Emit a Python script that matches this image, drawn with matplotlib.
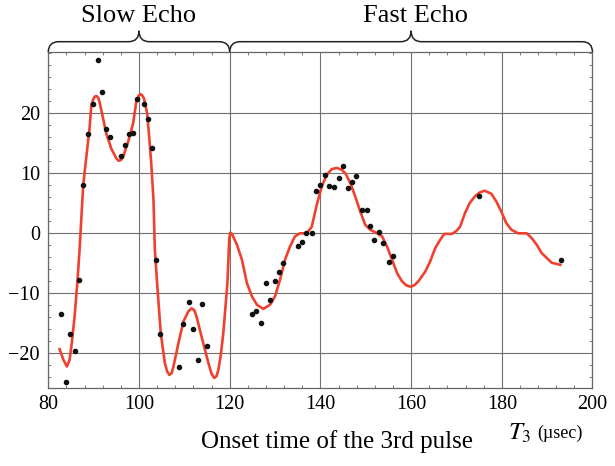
import matplotlib
matplotlib.use("Agg")
import matplotlib.pyplot as plt
from matplotlib.path import Path
from matplotlib.patches import PathPatch
from matplotlib.transforms import blended_transform_factory

plt.rcParams['font.family'] = ['Liberation Serif', 'DejaVu Serif']
plt.rcParams['mathtext.fontset'] = 'stix'

# Measured points (T3 in usec, signal)
pts_x = [82.7, 84.0, 84.9, 85.8, 86.8, 87.7, 88.7, 89.9, 90.9, 91.8,
         92.8, 93.7, 96.0, 96.9, 97.8, 98.75, 99.6, 101.0, 101.9, 102.8,
         103.8, 104.7, 108.9, 109.8, 111.0, 112.0, 113.0, 113.8, 114.9,
         125.0, 125.9, 126.8, 128.1, 129.0, 129.9, 130.9, 131.8, 135.0,
         136.0, 136.9, 138.2, 139.05, 140.0, 141.0, 141.9, 142.9, 144.1,
         145.0, 146.0, 146.9, 147.9, 149.1, 150.2, 151.0, 151.9, 152.95,
         153.8, 155.2, 156.0, 174.9, 193.1]
pts_y = [-13.5, -24.7, -16.8, -19.6, -7.75, 8.0, 16.5, 21.5, 28.9, 23.6,
         17.4, 16.0, 12.9, 14.8, 16.5, 16.7, 22.4, 21.5, 19.1, 14.3,
         -4.4, -16.8, -22.25, -15.1, -11.5, -15.9, -21.1, -11.75, -18.7,
         -13.5, -13.0, -14.9, -8.25, -11.1, -8.0, -6.4, -4.9, -2.1,
         -1.4, 0.1, 0.1, 7.0, 8.1, 9.8, 7.9, 7.7, 9.3,
         11.3, 7.5, 8.6, 9.6, 3.9, 3.9, 1.25, -1.1, 0.3,
         -1.6, -4.7, -3.75, 6.3, -4.4]

# Fitted curve
fit_x = [82.5, 83.3, 84.1, 84.7, 85.2, 85.8, 86.4, 86.9, 87.7, 88.25, 89.1, 89.5,
         89.9, 90.2, 90.6, 91.0, 91.3, 92.1, 92.8, 93.9, 95.0, 95.5, 96.0, 96.5,
         97.6, 98.7, 99.4, 99.9, 100.3, 100.7, 101.1, 101.8, 102.3, 102.7,
         103.2, 103.5, 104.1, 104.8, 105.7, 106.2, 106.7, 107.2, 107.6, 108.7,
         109.8, 110.9, 111.6, 112.2, 112.7, 113.8, 115.3, 116.0, 116.6, 117.1,
         117.5, 118.0, 118.6, 119.5, 119.9, 120.1, 120.5, 121.6, 122.7,
         123.8, 124.9, 126.0, 127.4, 128.9, 130.0, 131.1, 132.2, 133.3, 134.4,
         135.5, 137.0, 138.1, 139.2, 140.3, 141.4, 142.5, 143.6, 144.7, 145.5,
         146.6, 147.7, 148.8, 149.9, 151.0, 152.5, 153.6, 154.7, 155.8, 156.9,
         158.0, 159.0, 160.0, 160.8, 161.6, 163.1, 164.2, 165.3, 166.4, 167.3,
         169.0, 170.0, 170.8, 171.9, 172.9, 174.0, 175.1, 176.2, 177.7, 178.8,
         179.9, 181.0, 182.1, 183.6, 185.5, 186.6, 187.7, 188.8, 189.9, 191.0,
         192.9]
fit_y = [-19.3, -21.0, -22.2, -21.1, -18.2, -13.9, -8.3, -2.75, 8.0, 11.8, 17.5, 21.4,
         22.3, 22.75, 22.9, 22.6, 21.9, 19.1, 16.6, 14.1, 12.5, 12.1, 12.2, 12.75,
         15.25, 18.3, 21.9, 22.9, 23.2, 23.0, 22.5, 20.0, 15.6, 11.7,
         5.6, -2.75, -9.4, -16.6, -21.6, -23.0, -23.6, -23.3, -22.2, -18.3,
         -14.7, -13.0, -12.5, -12.8, -13.9, -17.2, -21.6, -23.4, -24.1, -23.8,
         -22.75, -20.5, -16.6, -8.3, -1.0, 0.1, -0.1, -1.9, -4.4,
         -8.3, -10.5, -11.9, -12.6, -11.9, -10.5, -7.75, -4.4, -2.2, -0.5,
         0.0, 0.0, 1.1, 4.75, 7.8, 9.75, 10.7, 10.9, 10.6, 10.0,
         8.4, 6.1, 3.6, 1.4, 0.6, 0.0, -0.5, -2.2, -4.4, -6.6,
         -8.0, -8.7, -8.9, -8.6, -8.0, -6.4, -4.7, -2.5, -1.1, -0.1,
         -0.1, 0.4, 1.1, 3.4, 5.0, 6.1, 6.8, 7.1, 6.6, 5.3,
         3.6, 1.7, 0.6, 0.0, 0.0, -0.8, -1.9, -3.3, -4.1, -4.9,
         -5.25]

x_ticks = [80, 100, 120, 140, 160, 180, 200]
y_ticks = [-20, -10, 0, 10, 20]

# brace spans: (start, tip, end, label)
braces = [(80, 100, 120, "Slow Echo"), (120, 160, 200, "Fast Echo")]

fig = plt.figure(figsize=(6.15, 4.66), dpi=100)
ax = fig.add_axes([0.0785, 0.1667, 0.8849, 0.7211])

ax.plot(fit_x, fit_y, color='#f0402e', lw=1.9, zorder=3,
        solid_joinstyle='round')
ax.plot(pts_x, pts_y, 'o', color='#111111', ms=3, zorder=4)

ax.set_xlim(80, 200)
ax.set_ylim(-25.83, 30.17)
ax.set_xticks(x_ticks)
ax.set_xticklabels([str(v) for v in x_ticks], fontfamily='Liberation Serif')
ax.set_yticks(y_ticks)
ax.set_yticklabels([str(v).replace('-', '\u2212') for v in y_ticks],
                   fontfamily='Liberation Serif')
ax.set_xticks(range(80, 201, 4), minor=True)
ax.set_yticks(range(-24, 31, 2), minor=True)
ax.grid(True, which='major', color='#707070', lw=0.8)
ax.tick_params(which='both', direction='in', top=True, right=True,
               color='#666666', labelsize=14.5)
ax.tick_params(which='major', length=0)
ax.tick_params(which='minor', length=2.5, width=0.6)
ax.tick_params(axis='x', pad=5)
ax.tick_params(axis='y', pad=6)
for s in ax.spines.values():
    s.set_color('#666666')
    s.set_linewidth(0.9)

# curly braces above the plot
trans = blended_transform_factory(ax.transData, ax.transAxes)
rx = 2.3
y0, ym, yt = 1.0, 1.0315, 1.064
for x0, xt, x1, label in braces:
    verts = [(x0, y0), (x0, ym), (x0 + rx, ym),
             (xt - rx, ym), (xt, ym), (xt, yt),
             (xt, ym), (xt + rx, ym),
             (x1 - rx, ym), (x1, ym), (x1, y0)]
    codes = [Path.MOVETO, Path.CURVE3, Path.CURVE3,
             Path.LINETO, Path.CURVE3, Path.CURVE3,
             Path.CURVE3, Path.CURVE3,
             Path.LINETO, Path.CURVE3, Path.CURVE3]
    ax.add_patch(PathPatch(Path(verts, codes), transform=trans, fill=False,
                           color='#222222', lw=1.1, clip_on=False))
    ax.text(xt + (1 if x1 == 200 else 0), 1.075, label, transform=trans,
            ha='center', va='bottom', fontsize=19)

fig.text(0.548, 0.028, "Onset time of the 3rd pulse", ha='center',
         va='bottom', fontsize=18)
fig.text(0.826, 0.045, r"$T_{\mathit{3}}$", ha='left', va='bottom', fontsize=18)
fig.text(0.873, 0.052, "(µsec)", ha='left', va='bottom', fontsize=13)

fig.savefig("out.png", dpi=100)
